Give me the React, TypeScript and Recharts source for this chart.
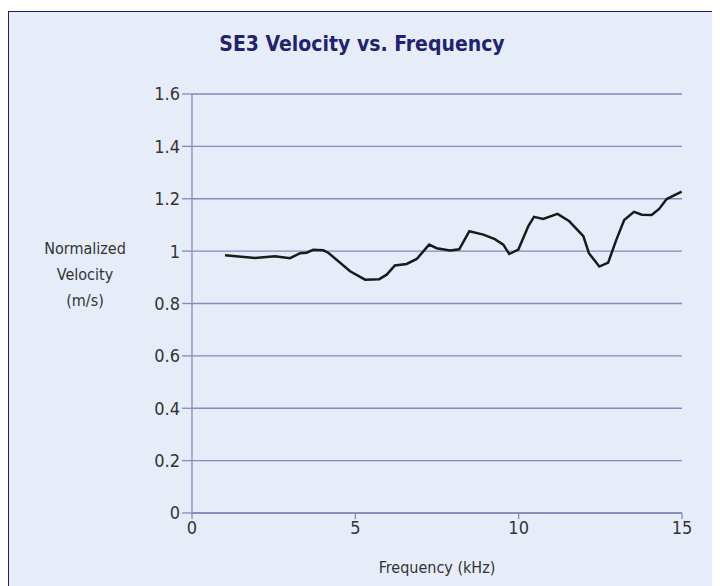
import { LineChart, Line, XAxis, YAxis, CartesianGrid, Label } from 'recharts'

const freqKHz = [
  1.01, 1.93, 2.54, 3.0, 3.31, 3.51, 3.71, 4.02, 4.17, 4.84, 5.3, 5.73, 5.96, 6.21,
  6.57, 6.88, 7.26, 7.49, 7.9, 8.18, 8.49, 8.92, 9.27, 9.53, 9.71, 9.99, 10.3, 10.47,
  10.75, 11.19, 11.55, 11.98, 12.15, 12.47, 12.74, 12.98, 13.23, 13.53, 13.77, 14.07,
  14.3, 14.53, 14.99,
]
const velocity = [
  0.984, 0.974, 0.98, 0.973, 0.992, 0.994, 1.005, 1.003, 0.994, 0.923, 0.891, 0.893,
  0.91, 0.945, 0.951, 0.97, 1.025, 1.011, 1.002, 1.007, 1.076, 1.063, 1.046, 1.025,
  0.989, 1.006, 1.097, 1.131, 1.123, 1.142, 1.114, 1.057, 0.992, 0.941, 0.956, 1.04,
  1.119, 1.15, 1.139, 1.138, 1.161, 1.199, 1.227,
]
const xTicks = [0, 5, 10, 15]
const yTicks = [0, 0.2, 0.4, 0.6, 0.8, 1, 1.2, 1.4, 1.6]

const FONT = "'Liberation Sans Narrow', 'DejaVu Sans Condensed', 'Roboto', sans-serif"
const GRID = '#8788bd'

export default function App() {
  const data = freqKHz.map((f, i) => ({ f, v: velocity[i] }))

  return (
    <div
      style={{
        position: 'relative',
        marginTop: 3,
        width: 706,
        height: 574,
        background: '#e6ecf8',
        border: '1px solid #1c1f6b',
        borderBottom: 'none',
        fontFamily: FONT,
      }}
    >
      <div
        style={{
          position: 'absolute',
          top: 20,
          left: 0,
          width: 706,
          textAlign: 'center',
          fontSize: 21,
          fontWeight: 'bold',
          color: '#1f2370',
        }}
      >
        SE3 Velocity vs. Frequency
      </div>
      <div
        style={{
          position: 'absolute',
          top: 224,
          left: 26,
          width: 100,
          textAlign: 'center',
          fontSize: 16,
          lineHeight: '26px',
          color: '#333',
        }}
      >
        Normalized
        <br />
        Velocity
        <br />
        (m/s)
      </div>
      <LineChart
        width={706}
        height={574}
        data={data}
        margin={{ top: 82, right: 33, left: 123, bottom: 43 }}
        style={{ position: 'absolute', top: 0, left: 0 }}
      >
        <CartesianGrid horizontal vertical={false} stroke={GRID} strokeWidth={1.3} />
        <XAxis
          type="number"
          dataKey="f"
          domain={[0, 15]}
          ticks={xTicks}
          height={30}
          tickSize={6}
          tickMargin={2}
          axisLine={{ stroke: GRID, strokeWidth: 1.3 }}
          tickLine={{ stroke: GRID, strokeWidth: 1.3 }}
          tick={{ fill: '#333', fontSize: 18, fontFamily: FONT }}
        >
          <Label
            value="Frequency (kHz)"
            position="insideBottom"
            offset={-30}
            style={{ fill: '#333', fontSize: 16, fontFamily: FONT }}
          />
        </XAxis>
        <YAxis
          type="number"
          domain={[0, 1.6]}
          ticks={yTicks}
          width={60}
          tickSize={10}
          tickMargin={2}
          axisLine={{ stroke: GRID, strokeWidth: 1.3 }}
          tickLine={{ stroke: GRID, strokeWidth: 1.3 }}
          tick={{ fill: '#333', fontSize: 18, fontFamily: FONT }}
        />
        <Line
          type="linear"
          dataKey="v"
          stroke="#1a1a1a"
          strokeWidth={2.5}
          dot={false}
          isAnimationActive={false}
        />
      </LineChart>
    </div>
  )
}
